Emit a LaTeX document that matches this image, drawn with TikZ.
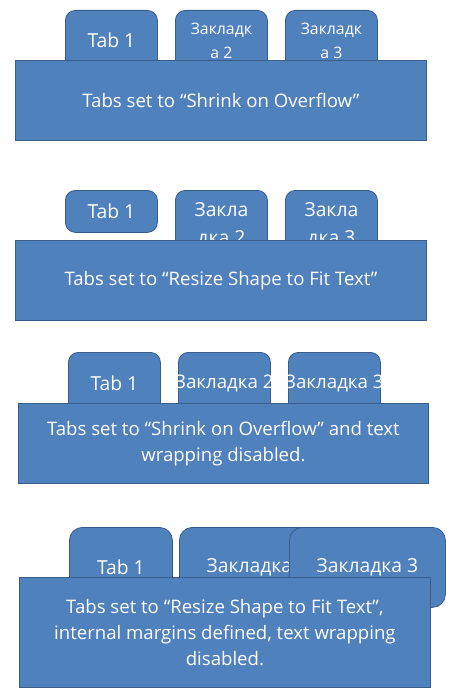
\documentclass[tikz,border=0pt]{standalone}
\usepackage{fontspec}
\setmainfont{Open Sans}
\usetikzlibrary{positioning}
\definecolor{tabblue}{HTML}{4F81BD}
\definecolor{tabedge}{HTML}{385D8A}
\tikzset{
  tabbox/.style={draw=tabedge, line width=0.8pt, fill=tabblue, rounded corners=10pt, text=white, anchor=north west, inner sep=0pt, minimum width=92pt, minimum height=60pt, align=center, font=\fontsize{19.3}{23}\selectfont},
  panelbox/.style={draw=tabedge, line width=0.8pt, fill=tabblue, text=white, anchor=north west, inner sep=0pt, minimum width=411pt, minimum height=80pt, align=center, font=\fontsize{18.6}{26}\selectfont}
}
\begin{document}
\begin{tikzpicture}[x=1pt, y=-1pt]
\useasboundingbox (0,0) rectangle (453,698);
% shrink on overflow
\node[tabbox] (tabA1) at (65,10) {Tab 1};
\node[tabbox, font=\fontsize{15.8}{24}\selectfont] (tabA2) at (175,10) {Закладк\\а 2};
\node[tabbox, font=\fontsize{15.8}{24}\selectfont] (tabA3) at (285,10) {Закладк\\а 3};
\node[panelbox] (panelA) at (15,60) {Tabs set to “Shrink on Overflow”};
% resize shape to fit text
\node[tabbox, minimum height=42pt] (tabB1) at (65,190) {Tab 1};
\node[tabbox, minimum height=70pt, font=\fontsize{19.3}{28}\selectfont] (tabB2) at (175,190) {Закла\\дка 2};
\node[tabbox, minimum height=70pt, font=\fontsize{19.3}{28}\selectfont] (tabB3) at (285,190) {Закла\\дка 3};
\node[panelbox] (panelB) at (15,240) {Tabs set to “Resize Shape to Fit Text”};
% shrink on overflow, no wrapping
\node[tabbox, minimum height=62pt] (tabC1) at (68,352) {Tab 1};
\node[tabbox, minimum height=62pt, font=\fontsize{18.7}{23}\selectfont] (tabC2) at (178,352) {\makebox[0pt]{Закладка 2}};
\node[tabbox, minimum height=62pt, font=\fontsize{18.7}{23}\selectfont] (tabC3) at (288,352) {\makebox[0pt]{Закладка 3}};
\node[panelbox, minimum width=410pt] (panelC) at (18,403) {Tabs set to “Shrink on Overflow” and text\\wrapping disabled.};
% resize shape, internal margins
\node[tabbox, rounded corners=13pt, minimum width=103pt, minimum height=80pt] (tabD1) at (69,527) {Tab 1};
\node[tabbox, rounded corners=13pt, minimum width=156pt, minimum height=80pt] (tabD2) at (179,527) {Закладка 2};
\node[tabbox, rounded corners=13pt, minimum width=156pt, minimum height=80pt] (tabD3) at (289,527) {Закладка 3};
\node[panelbox, minimum height=110pt] (panelD) at (19,577) {Tabs set to “Resize Shape to Fit Text”,\\internal margins defined, text wrapping\\disabled.};
\end{tikzpicture}
\end{document}
